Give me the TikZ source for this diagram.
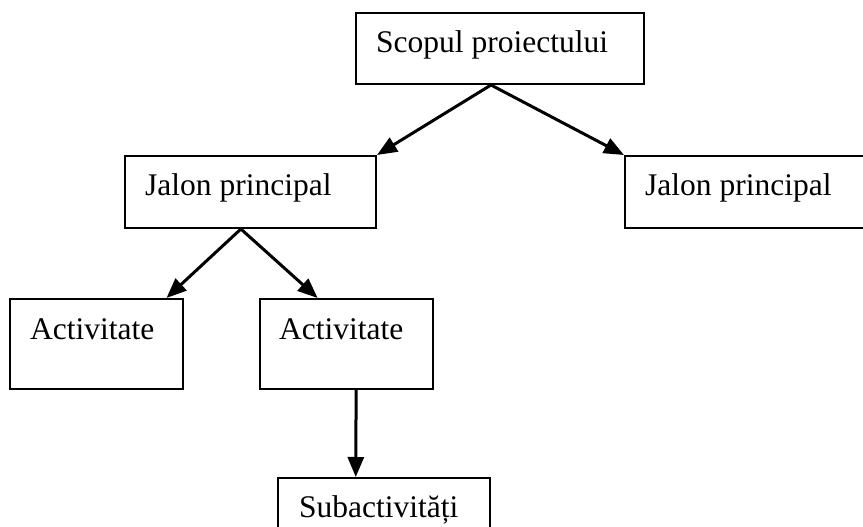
\documentclass[tikz,border=0pt]{standalone}
\usepackage{fontspec}
\setmainfont{Liberation Serif}
\usetikzlibrary{arrows.meta,calc}
\begin{document}
\begin{tikzpicture}[x=1pt,y=-1pt,
  box/.style={draw,line width=2pt,inner sep=0pt,anchor=north west},
  txt/.style={anchor=base west,inner sep=0pt,font=\fontsize{31.5}{36}\selectfont},
  link/.style={line width=3pt,-{Triangle[length=20pt,width=16pt]}}]
\useasboundingbox (0,0) rectangle (863,527);
\clip (0,0) rectangle (863,527);
% boxes
\node[box,minimum width=288pt,minimum height=71pt] (top) at (355,12) {};
\node[box,minimum width=251pt,minimum height=72pt] (jl) at (124,155) {};
\node[box,minimum width=260pt,minimum height=72pt] (jr) at (624,155) {};
\node[box,minimum width=173pt,minimum height=90pt] (a1) at (9,298) {};
\node[box,minimum width=173pt,minimum height=90pt] (a2) at (259,298) {};
\node[box,minimum width=212pt,minimum height=70pt] (sub) at (277,477) {};
% labels
\node[txt] (ttop) at (376,53) {Scopul proiectului};
\node[txt] (tjl) at (145,195) {Jalon principal};
\node[txt] (tjr) at (645,195) {Jalon principal};
\node[txt] (ta1) at (30,339) {Activitate};
\node[txt] (ta2) at (279,339) {Activitate};
\node[txt] (tsub) at (299,517) {Subactivități};
% connectors
\coordinate (topb) at ($(top.south west)!0.469!(top.south east)$);
\coordinate (jlb) at ($(jl.south west)!0.462!(jl.south east)$);
\draw[link] (topb) -- (jl.north east);
\draw[link] (topb) -- (jr.north west);
\draw[link] (jlb) -- ($(a1.north west)!0.90!(a1.north east)$);
\draw[link] (jlb) -- ($(a2.north west)!0.335!(a2.north east)$);
\draw[link] ($(a2.south west)!0.555!(a2.south east)$) -- ($(sub.north west)!0.368!(sub.north east)$);
\end{tikzpicture}
\end{document}
